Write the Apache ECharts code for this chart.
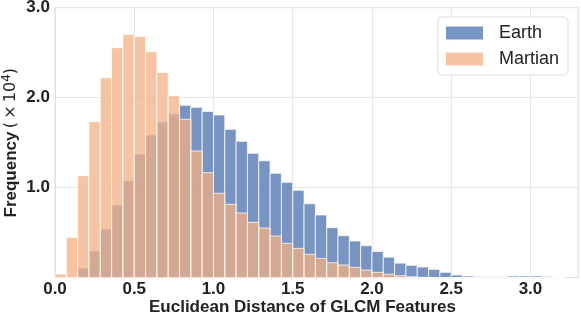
<!DOCTYPE html>
<html>
<head>
<meta charset="utf-8">
<script src="https://cdn.jsdelivr.net/npm/echarts@6/dist/echarts.min.js"></script>
<style>
html,body{margin:0;padding:0;background:#fff;}
#chart{width:581px;height:316px;}
</style>
</head>
<body>
<div id="chart"></div>
<script>
// Histogram bins: bin k spans [k*binWidth, (k+1)*binWidth]
const binWidth = 1 / 14;
// Frequencies in units of 10^4
const earthCounts = [
  0.000, 0.008, 0.108, 0.297, 0.541, 0.808, 1.078, 1.374, 1.586, 1.730,
  1.822, 1.915, 1.893, 1.848, 1.808, 1.649, 1.515, 1.382, 1.300, 1.160,
  1.060, 0.971, 0.822, 0.697, 0.556, 0.467, 0.408, 0.356, 0.292, 0.228,
  0.162, 0.138, 0.119, 0.093, 0.060, 0.030, 0.019, 0.011, 0.011, 0.011,
  0.019, 0.019, 0.019, 0.015, 0.004
];
const martianCounts = [
  0.041, 0.449, 1.134, 1.734, 2.222, 2.556, 2.704, 2.681, 2.511, 2.281,
  2.022, 1.760, 1.408, 1.167, 0.938, 0.815, 0.719, 0.615, 0.552, 0.463,
  0.382, 0.326, 0.260, 0.215, 0.167, 0.141, 0.115, 0.085, 0.060, 0.039,
  0.022, 0.011, 0.004, 0, 0, 0, 0, 0, 0, 0,
  0, 0, 0, 0, 0
];
const seriesNames = ['Earth', 'Martian'];
const xTicks = [0.0, 0.5, 1.0, 1.5, 2.0, 2.5, 3.0];
const yTicks = [1.0, 2.0, 3.0];

const FONT = '"Liberation Sans", Arial, sans-serif';
const MATH = '"DejaVu Sans", sans-serif';
const earthColor = 'rgba(76,114,176,0.76)';
const martianColor = 'rgba(243,176,131,0.75)';

function toBins(counts) {
  return counts.map((v, i) => [i * binWidth, (i + 1) * binWidth, v]);
}
function renderBar(params, api) {
  const p0 = api.coord([api.value(0), api.value(2)]);
  const p1 = api.coord([api.value(1), 0]);
  return {
    type: 'rect',
    shape: { x: p0[0], y: p0[1], width: p1[0] - p0[0], height: p1[1] - p0[1] },
    style: { fill: api.visual('color'), stroke: 'rgba(255,255,255,0.75)', lineWidth: 1 }
  };
}

const chart = echarts.init(document.getElementById('chart'), null, { renderer: 'canvas' });
chart.setOption({
  animation: false,
  backgroundColor: '#fff',
  grid: {
    left: 55, right: 3, top: 7.7, bottom: 38.3,
    containLabel: false, outerBoundsMode: 'none',
    show: true, borderColor: '#e0e0e0', borderWidth: 1
  },
  legend: {
    orient: 'vertical',
    right: 13, top: 17,
    data: seriesNames,
    icon: 'rect',
    itemWidth: 37, itemHeight: 13, itemGap: 6,
    padding: [6, 9, 6, 8],
    borderColor: '#dddddd', borderWidth: 1, borderRadius: 4,
    backgroundColor: 'rgba(255,255,255,0.85)',
    textStyle: { fontFamily: FONT, fontSize: 18, color: '#222', lineHeight: 20, padding: [0, 0, 0, 11] }
  },
  xAxis: {
    type: 'value', min: 0, max: 3.3, interval: 0.5,
    name: 'Euclidean Distance of GLCM Features',
    nameLocation: 'middle', nameGap: 21, nameMoveOverlap: false,
    nameTextStyle: { fontFamily: FONT, fontSize: 17, fontWeight: 'bold', color: '#222', padding: [0, 28, 0, 0] },
    axisLine: { show: true, lineStyle: { color: '#e0e0e0' } },
    axisTick: { show: false },
    axisLabel: {
      fontFamily: FONT, fontSize: 17, fontWeight: 'bold', color: '#222', margin: 3,
      showMaxLabel: false,
      formatter: v => xTicks.some(t => Math.abs(t - v) < 1e-9) ? v.toFixed(1) : ''
    },
    splitLine: { show: true, lineStyle: { color: '#e6e6e6' } }
  },
  yAxis: {
    type: 'value', min: 0, max: 3, interval: 1,
    name: '{b|Frequency} {n|(\u2009×\u200910}{s|4}{n|)}',
    nameLocation: 'middle', nameGap: 34, nameRotate: 90, nameMoveOverlap: false,
    nameTextStyle: {
      rich: {
        b: { fontFamily: FONT, fontSize: 17, fontWeight: 'bold', color: '#222', lineHeight: 20 },
        n: { fontFamily: MATH, fontSize: 16, color: '#222', lineHeight: 20 },
        s: { fontFamily: MATH, fontSize: 12, color: '#222', lineHeight: 20, verticalAlign: 'top', padding: [0, 0, 8, 0] }
      }
    },
    axisLine: { show: true, lineStyle: { color: '#e0e0e0' } },
    axisTick: { show: false },
    axisLabel: {
      fontFamily: FONT, fontSize: 17, fontWeight: 'bold', color: '#222', margin: 5,
      formatter: v => yTicks.some(t => Math.abs(t - v) < 1e-9) ? v.toFixed(1) : ''
    },
    splitLine: { show: true, lineStyle: { color: '#e6e6e6' } }
  },
  series: [
    {
      name: seriesNames[0], type: 'custom', renderItem: renderBar,
      itemStyle: { color: earthColor },
      encode: { x: [0, 1], y: 2 },
      data: toBins(earthCounts)
    },
    {
      name: seriesNames[1], type: 'custom', renderItem: renderBar,
      itemStyle: { color: martianColor },
      encode: { x: [0, 1], y: 2 },
      data: toBins(martianCounts)
    }
  ]
});
</script>
</body>
</html>
